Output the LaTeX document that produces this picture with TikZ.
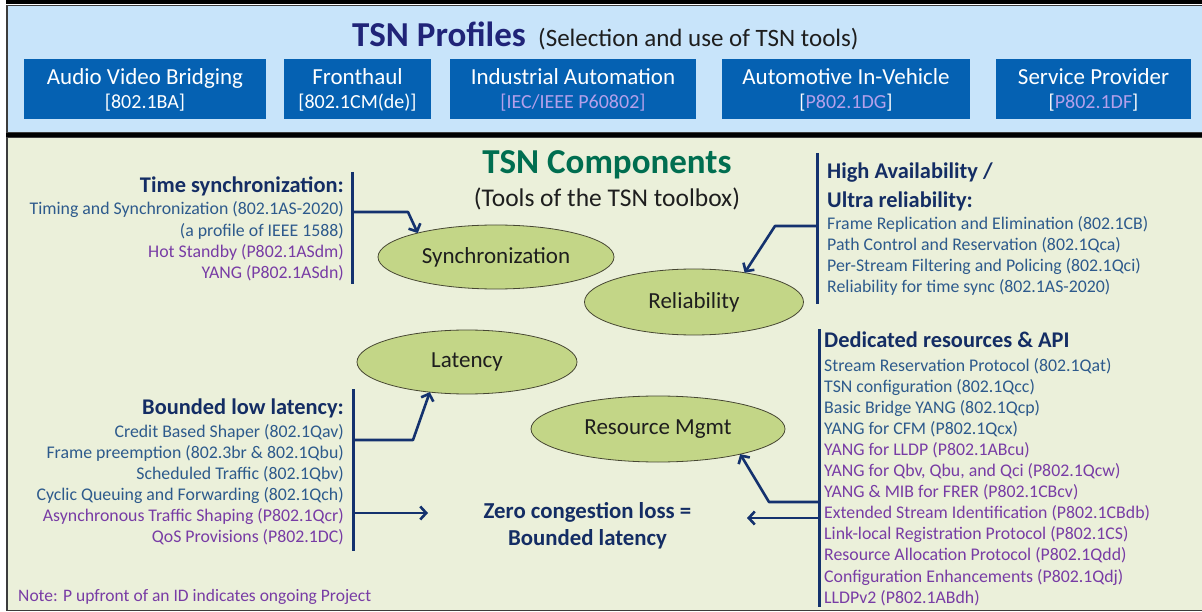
\documentclass[tikz,border=0pt]{standalone}
\usepackage{fontspec}
\setmainfont{Carlito}
\usetikzlibrary{shapes.geometric,arrows.meta}
\definecolor{topfill}{RGB}{200,228,250}
\definecolor{botfill}{RGB}{235,240,218}
\definecolor{boxblue}{RGB}{5,97,178}
\definecolor{lav}{RGB}{180,160,235}
\definecolor{navy}{RGB}{20,45,100}
\definecolor{profnavy}{RGB}{32,36,120}
\definecolor{itemblue}{RGB}{45,90,140}
\definecolor{itempurple}{RGB}{120,60,165}
\definecolor{compgreen}{RGB}{0,110,80}
\definecolor{ellfill}{RGB}{195,214,135}
\definecolor{ellline}{RGB}{70,70,50}
\definecolor{framecol}{RGB}{60,60,60}
\definecolor{ybar}{RGB}{255,250,0}
\definecolor{barcol}{RGB}{20,50,110}
\definecolor{inktext}{RGB}{30,30,30}
\newcommand{\secline}[1]{{\fontsize{20}{23}\selectfont #1}}
\begin{document}
\begin{tikzpicture}[x=1pt,y=-1pt,
  profbox/.style={fill=boxblue, draw=none, minimum height=60, inner sep=0pt, outer sep=0pt},
  proftext/.style={text=white, align=center, font=\fontsize{23}{24}\selectfont, inner sep=0pt},
  ell/.style={ellipse, fill=ellfill, draw=ellline, line width=0.8pt, inner sep=0pt, outer sep=0pt, text=inktext, font=\fontsize{23}{26}\selectfont},
  item/.style={font=\fontsize{17.8}{20}\selectfont, text=itemblue, inner sep=0pt},
  pitem/.style={font=\fontsize{17.8}{20}\selectfont, text=itempurple, inner sep=0pt},
  head/.style={font=\bfseries\fontsize{22.4}{25}\selectfont, text=navy, inner sep=0pt},
  bar/.style={draw=barcol, line width=3pt},
  arr/.style={draw=barcol, line width=2.6pt, line join=round, -{Straight Barb[length=6pt,width=13pt]}}
]
\useasboundingbox (0,0) rectangle (1202,612);
\fill[white] (0,0) rectangle (1202,612);
% frames
\fill[ybar] (6,0) rectangle (1202,4.5);
\fill[ybar] (6,132.5) rectangle (1202,137);
\draw[fill=topfill, draw=framecol, line width=1.5pt] (7,5.5) rectangle (1204,132.5);
\draw[fill=botfill, draw=framecol, line width=1.5pt] (7,137.5) rectangle (1204,610.5);

% title of profiles
\node[anchor=base west, inner sep=0pt, font=\bfseries\fontsize{35}{38}\selectfont, text=profnavy] (proftitle) at (352,47) {TSN Profiles};
\node[anchor=base west, inner sep=0pt, font=\fontsize{25}{28}\selectfont, text=inktext] (profsub) at (538,47) {(Selection and use of TSN tools)};

% profile boxes
\node[profbox, minimum width=242] (avb) at (145,89) {};
\node[proftext] (avbt) at ([yshift=-1pt]avb.center) {Audio Video Bridging\\\secline{{[}802.1BA{]}}};
\node[profbox, minimum width=147] (fh) at (357.5,89) {};
\node[proftext] (fht) at ([yshift=-1pt]fh.center) {Fronthaul\\\secline{{[}802.1CM(de){]}}};
\node[profbox, minimum width=246] (ia) at (573,89) {};
\node[proftext] (iat) at ([yshift=-1pt]ia.center) {Industrial Automation\\\secline{\textcolor{lav}{{[}IEC/IEEE P60802{]}}}};
\node[profbox, minimum width=248] (auto) at (846,89) {};
\node[proftext] (autot) at ([yshift=-1pt]auto.center) {Automotive In-Vehicle\\\secline{{[}\textcolor{lav}{P802.1DG}{]}}};
\node[profbox, minimum width=195] (sp) at (1093.5,89) {};
\node[proftext] (spt) at ([yshift=-1pt]sp.center) {Service Provider\\\secline{{[}\textcolor{lav}{P802.1DF}{]}}};

% components title
\node[anchor=base, inner sep=0pt, font=\bfseries\fontsize{35}{38}\selectfont, text=compgreen] (comp) at (607,174) {TSN Components};
\node[anchor=base, inner sep=0pt, font=\fontsize{25.5}{28}\selectfont, text=inktext] (tools) at (607,207) {(Tools of the TSN toolbox)};

% ellipses
\node[ell, minimum width=236, minimum height=64] (sync) at (496,257) {Synchronization};
\node[ell, minimum width=219, minimum height=66] (rel) at (694,302) {Reliability};
\node[ell, minimum width=220, minimum height=64] (lat) at (467,362) {Latency};
\node[ell, minimum width=254, minimum height=66] (res) at (658,429) {Resource Mgmt};

% zero congestion
\node[font=\bfseries\fontsize{22.8}{27}\selectfont, text=navy, align=center, minimum width=319, inner sep=0pt, outer sep=0pt] (zero) at (587.5,526) {Zero congestion loss =\\Bounded latency};

% Time synchronization block
\node[head, anchor=base east] (tsh) at (344,193) {Time synchronization:};
\node[item, anchor=base east] (ts1) at (344,215) {Timing and Synchronization (802.1AS-2020)};
\node[item, anchor=base east] (ts2) at (344,237) {(a profile of IEEE 1588)};
\node[pitem, anchor=base east] (ts3) at (344,258) {Hot Standby (P802.1ASdm)};
\node[pitem, anchor=base east] (ts4) at (344,279) {YANG (P802.1ASdn)};
\draw[bar] (352,172) -- (352,284);

% High availability block
\node[head, anchor=base west] (hah1) at (827,179) {High Availability /};
\node[head, anchor=base west] (hah2) at (827,208) {Ultra reliability:};
\node[item, anchor=base west] (ha1) at (827,230) {Frame Replication and Elimination (802.1CB)};
\node[item, anchor=base west] (ha2) at (827,251) {Path Control and Reservation (802.1Qca)};
\node[item, anchor=base west] (ha3) at (827,272) {Per-Stream Filtering and Policing (802.1Qci)};
\node[item, anchor=base west] (ha4) at (827,293) {Reliability for time sync (802.1AS-2020)};
\draw[bar] (817,153) -- (817,304);

% Bounded low latency block
\node[head, anchor=base east] (blh) at (344,414) {Bounded low latency:};
\node[item, anchor=base east] (bl1) at (344,437) {Credit Based Shaper (802.1Qav)};
\node[item, anchor=base east] (bl2) at (344,458) {Frame preemption (802.3br \& 802.1Qbu)};
\node[item, anchor=base east] (bl3) at (344,479) {Scheduled Traffic (802.1Qbv)};
\node[item, anchor=base east] (bl4) at (344,500) {Cyclic Queuing and Forwarding (802.1Qch)};
\node[pitem, anchor=base east] (bl5) at (344,521) {Asynchronous Traffic Shaping (P802.1Qcr)};
\node[pitem, anchor=base east] (bl6) at (344,542) {QoS Provisions (P802.1DC)};
\draw[bar] (353,389) -- (353,551);

% Dedicated resources block
\node[head, anchor=base west] (drh) at (824,348) {Dedicated resources \& API};
\node[item, anchor=base west] (dr1) at (824,371) {Stream Reservation Protocol (802.1Qat)};
\node[item, anchor=base west] (dr2) at (824,392.1) {TSN configuration (802.1Qcc)};
\node[item, anchor=base west] (dr3) at (824,413.2) {Basic Bridge YANG (802.1Qcp)};
\node[item, anchor=base west] (dr4) at (824,434.3) {YANG for CFM (P802.1Qcx)};
\node[pitem, anchor=base west] (dr5) at (824,455.4) {YANG for LLDP (P802.1ABcu)};
\node[pitem, anchor=base west] (dr6) at (824,476.5) {YANG for Qbv, Qbu, and Qci (P802.1Qcw)};
\node[pitem, anchor=base west] (dr7) at (824,497.6) {YANG \& MIB for FRER (P802.1CBcv)};
\node[pitem, anchor=base west] (dr8) at (824,518.7) {Extended Stream Identification (P802.1CBdb)};
\node[pitem, anchor=base west] (dr9) at (824,539.8) {Link-local Registration Protocol (P802.1CS)};
\node[pitem, anchor=base west] (dr10) at (824,560.9) {Resource Allocation Protocol (P802.1Qdd)};
\node[pitem, anchor=base west] (dr11) at (824,582) {Configuration Enhancements (P802.1Qdj)};
\node[pitem, anchor=base west] (dr12) at (824,603) {LLDPv2 (P802.1ABdh)};
\draw[bar] (819,329) -- (819,607);

% note
\node[anchor=base west, inner sep=0pt, font=\fontsize{17.5}{20}\selectfont, text=itempurple] (note) at (18,601) {Note: P upfront of an ID indicates ongoing Project};

% connectors
\coordinate (tsA) at (352,212);
\coordinate (haA) at (817,226);
\coordinate (blA) at (353,440);
\coordinate (blB) at (353,513);
\coordinate (drA) at (819,502);
\coordinate (drB) at (819,518);
\draw[arr] (tsA) -- (408,212) -- (sync.163);
\draw[arr] (haA) -- (775,226) -- (rel.30);
\draw[arr] (blA) -- (413,440) -- (lat.219);
\draw[arr] (blB) -- (blB -| zero.west);
\draw[arr] (drA) -- (769,502) -- (res.343);
\draw[arr] (drB) -- (drB -| zero.east);
\end{tikzpicture}
\end{document}
